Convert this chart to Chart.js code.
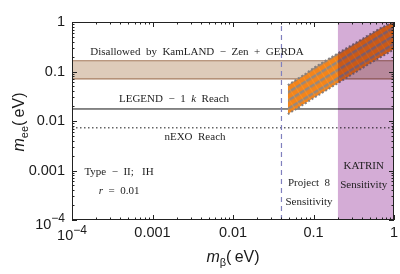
<!DOCTYPE html>
<html><head><meta charset="utf-8">
<script src="https://cdn.jsdelivr.net/npm/chart.js@4/dist/chart.umd.min.js"></script>
<style>html,body{margin:0;padding:0;background:#fff;}canvas{display:block;}</style>
</head><body>
<canvas id="c" width="400" height="274"></canvas>
<script>
// ---- data ----
const xTicks = [1e-4, 1e-3, 1e-2, 1e-1, 1];
const yTicks = [1e-4, 1e-3, 1e-2, 1e-1, 1];
const xTickLabels = ['10^\u22124', '0.001', '0.01', '0.1', '1'];
const yTickLabels = ['10^\u22124', '0.001', '0.01', '0.1', '1'];
const bandMBeta = [0.048, 0.06, 0.08, 0.1, 0.15, 0.2, 0.3, 0.5, 0.7, 1.0];
const bandUpper = [0.053, 0.067, 0.090, 0.118, 0.175, 0.232, 0.34, 0.56, 0.77, 1.0];
const bandLower = [0.0138, 0.0172, 0.0230, 0.0290, 0.0435, 0.058, 0.087, 0.145, 0.200, 0.28];
const kamlandBand = [0.071, 0.165];
const legendReach = 0.0175;
const nexoReach = 0.0073;
const project8 = 0.04;
const katrin = [0.2, 1];
const xRange = [1e-4, 1];
const yRange = [1e-4, 1];
const notes = [
  {x: 0.00357, y: 0.248, parts: [['Disallowed  by  KamLAND  \u2212  Zen  +  GERDA', 0]]},
  {x: 0.00185, y: 0.0278, parts: [['LEGEND  \u2212  1  ', 0], ['k', 1], ['  Reach', 0]]},
  {x: 0.00337, y: 0.00475, parts: [['nEXO  Reach', 0]]},
  {x: 0.000384, y: 0.00093, parts: [['Type  \u2212  II;   IH', 0]]},
  {x: 0.000384, y: 0.000385, parts: [['r', 1], ['  =  0.01', 0]]},
  {x: 0.088, y: 0.00056, parts: [['Project  8', 0]]},
  {x: 0.088, y: 0.00023, parts: [['Sensitivity', 0]]},
  {x: 0.42, y: 0.00123, parts: [['KATRIN', 0]]},
  {x: 0.42, y: 0.00051, parts: [['Sensitivity', 0]]}
];

// ---- band texture ----
function makePattern() {
  const c = document.createElement('canvas');
  c.width = 6; c.height = 7;
  const g = c.getContext('2d');
  g.fillStyle = 'rgb(243,132,26)'; g.fillRect(0, 0, 6, 7);
  g.fillStyle = 'rgb(150,136,126)'; g.fillRect(0, 4, 6, 2.5);
  g.fillStyle = 'rgba(255,150,40,0.6)'; g.fillRect(2, 0, 1, 7);
  const p = g.createPattern(c, 'repeat');
  p.setTransform(new DOMMatrix().rotate(-31.5));
  return p;
}

const datasets = [
  { // 0: KATRIN region (drawn last, multiply)
    data: katrin.map(v => ({x: v, y: yRange[1]})),
    fill: 'start', backgroundColor: 'rgb(212,172,214)', borderWidth: 0, pointRadius: 0
  },
  { // 1: band upper
    data: bandMBeta.map((m, i) => ({x: m, y: bandUpper[i]})),
    fill: false, borderColor: 'rgba(130,125,125,0.95)', borderWidth: 2, borderDash: [2, 2], pointRadius: 0
  },
  { // 2: band lower, filled to upper
    data: bandMBeta.map((m, i) => ({x: m, y: bandLower[i]})),
    fill: '-1', backgroundColor: makePattern(), borderColor: 'rgba(130,125,125,0.95)', borderWidth: 2, borderDash: [2, 2], pointRadius: 0
  },
  { // 3: Project 8
    data: yRange.map(v => ({x: project8, y: v})),
    borderColor: 'rgb(128,128,190)', borderWidth: 1.2, borderDash: [5, 4], pointRadius: 0, fill: false
  },
  { // 4: LEGEND-1k
    data: xRange.map(v => ({x: v, y: legendReach})),
    borderColor: '#111', borderWidth: 1, pointRadius: 0, fill: false
  },
  { // 5: nEXO
    data: xRange.map(v => ({x: v, y: nexoReach})),
    borderColor: 'rgb(100,100,100)', borderWidth: 1.3, borderDash: [1.5, 2.5], pointRadius: 0, fill: false
  },
  { // 6: KamLAND upper
    data: xRange.map(v => ({x: v, y: kamlandBand[1]})),
    borderColor: 'rgb(165,122,92)', borderWidth: 1.2, pointRadius: 0, fill: false
  },
  { // 7: KamLAND lower
    data: xRange.map(v => ({x: v, y: kamlandBand[0]})),
    borderColor: 'rgb(165,122,92)', borderWidth: 1.2, pointRadius: 0, fill: '-1',
    backgroundColor: 'rgb(222,203,186)'
  }
];

function drawParts(ctx, parts, cx, cy, size) {
  const fam = '"Liberation Serif", "Times New Roman", serif';
  let total = 0;
  const w = parts.map(p => { ctx.font = (p[1] ? 'italic ' : '') + size + 'px ' + fam; const m = ctx.measureText(p[0]).width; total += m; return m; });
  let x = cx - total / 2;
  ctx.textBaseline = 'middle'; ctx.textAlign = 'left';
  parts.forEach((p, i) => { ctx.font = (p[1] ? 'italic ' : '') + size + 'px ' + fam; ctx.fillText(p[0], x, cy); x += w[i]; });
}

const SANS = '"Liberation Sans", Arial, sans-serif';

const decor = {
  id: 'decor',
  afterDatasetDraw(chart, args) {
    if (args.index === 1) chart.ctx.globalCompositeOperation = 'multiply';
    if (args.index === 0) chart.ctx.globalCompositeOperation = 'source-over';
  },
  afterDraw(chart) {
    const ctx = chart.ctx, a = chart.chartArea, xs = chart.scales.x, ys = chart.scales.y;
    ctx.save();
    ctx.globalCompositeOperation = 'source-over';
    // frame
    ctx.strokeStyle = '#222'; ctx.lineWidth = 1;
    ctx.strokeRect(a.left + 0.5, a.top + 0.5, a.right - a.left - 1, a.bottom - a.top - 1);
    // inner ticks
    ctx.beginPath();
    for (let d = -4; d <= 0; d++) {
      for (let k = 1; k <= 9; k++) {
        const v = k * Math.pow(10, d);
        if (v > 1.0001) break;
        const len = k === 1 ? 5 : 2.5;
        const px = Math.round(xs.getPixelForValue(v)) + 0.5;
        const py = Math.round(ys.getPixelForValue(v)) + 0.5;
        ctx.moveTo(px, a.bottom); ctx.lineTo(px, a.bottom - len);
        ctx.moveTo(px, a.top); ctx.lineTo(px, a.top + len);
        ctx.moveTo(a.left, py); ctx.lineTo(a.left + len, py);
        ctx.moveTo(a.right, py); ctx.lineTo(a.right - len, py);
      }
    }
    ctx.stroke();
    // power tick labels
    ctx.fillStyle = '#1a1a1a';
    ctx.textBaseline = 'alphabetic'; ctx.textAlign = 'left';
    xTicks.forEach((v, i) => {
      const lab = xTickLabels[i];
      if (lab.indexOf('^') < 0) return;
      const [b, e] = lab.split('^');
      ctx.font = '14.5px ' + SANS; const wb = ctx.measureText(b).width;
      ctx.font = '12px ' + SANS; const we = ctx.measureText(e).width;
      const x0 = xs.getPixelForValue(v) - (wb + we) / 2;
      ctx.font = '14.5px ' + SANS; ctx.fillText(b, x0, a.bottom + 20);
      ctx.font = '12px ' + SANS; ctx.fillText(e, x0 + wb, a.bottom + 13.5);
    });
    yTicks.forEach((v, i) => {
      const lab = yTickLabels[i];
      if (lab.indexOf('^') < 0) return;
      const [b, e] = lab.split('^');
      ctx.font = '14.5px ' + SANS; const wb = ctx.measureText(b).width;
      ctx.font = '12px ' + SANS; const we = ctx.measureText(e).width;
      const x0 = a.left - 7 - wb - we;
      const py = ys.getPixelForValue(v);
      ctx.font = '14.5px ' + SANS; ctx.fillText(b, x0, py + 8.5);
      ctx.font = '12px ' + SANS; ctx.fillText(e, x0 + wb, py + 2);
    });
    // axis titles
    function title(main, sub, rest, cx, by) {
      ctx.font = 'italic 16px ' + SANS; const w1 = ctx.measureText(main).width;
      ctx.font = '11px ' + SANS; const w2 = ctx.measureText(sub).width;
      ctx.font = '16px ' + SANS; const w3 = ctx.measureText(rest).width;
      let x = cx - (w1 + w2 + w3) / 2;
      ctx.font = 'italic 16px ' + SANS; ctx.fillText(main, x, by); x += w1;
      ctx.font = '11px ' + SANS; ctx.fillText(sub, x, by + 4); x += w2;
      ctx.font = '16px ' + SANS; ctx.fillText(rest, x, by);
    }
    ctx.fillStyle = '#1a1a1a';
    title('m', '\u03b2', '(\u2009eV)', (a.left + a.right) / 2, 262);
    ctx.save();
    ctx.translate(24, (a.top + a.bottom) / 2 + 1);
    ctx.rotate(-Math.PI / 2);
    title('m', 'ee', '(\u2009eV)', 0, 0);
    ctx.restore();
    // annotations
    ctx.fillStyle = '#1e1e1e';
    notes.forEach(n => drawParts(ctx, n.parts, xs.getPixelForValue(n.x), ys.getPixelForValue(n.y), 11));
    ctx.restore();
  }
};

new Chart(document.getElementById('c'), {
  type: 'line',
  data: { datasets },
  options: {
    responsive: false, devicePixelRatio: 1, animation: false,
    layout: { padding: { top: 22, right: 6, left: 0, bottom: 0 } },
    plugins: { legend: { display: false }, tooltip: { enabled: false } },
    scales: {
      x: {
        type: 'logarithmic', min: xRange[0], max: xRange[1],
        afterBuildTicks: ax => { ax.ticks = xTicks.map(v => ({value: v})); },
        afterFit: ax => { ax.height = 54; ax.paddingLeft = 0; ax.paddingRight = 0; },
        grid: { display: false, drawTicks: false }, border: { display: false },
        ticks: { autoSkip: false, maxRotation: 0, padding: 4, color: '#1a1a1a',
          font: { family: SANS, size: 14.5 },
          callback: (v, i) => xTickLabels[i].indexOf('^') >= 0 ? '' : xTickLabels[i] }
      },
      y: {
        type: 'logarithmic', min: yRange[0], max: yRange[1],
        afterBuildTicks: ax => { ax.ticks = yTicks.map(v => ({value: v})); },
        afterFit: ax => { ax.width = 72; ax.paddingTop = 0; ax.paddingBottom = 0; },
        grid: { display: false, drawTicks: false }, border: { display: false },
        ticks: { autoSkip: false, padding: 7, color: '#1a1a1a',
          font: { family: SANS, size: 14.5 },
          callback: (v, i) => yTickLabels[i].indexOf('^') >= 0 ? '' : yTickLabels[i] }
      }
    }
  },
  plugins: [decor]
});
</script>
</body></html>
